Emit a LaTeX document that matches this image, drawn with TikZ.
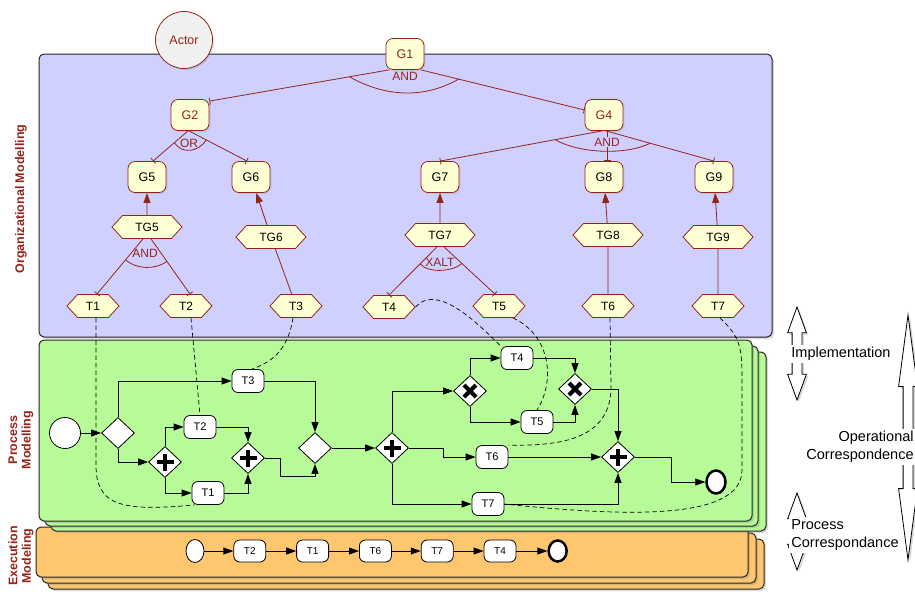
\documentclass[tikz,border=0pt]{standalone}
\usepackage{fontspec}
\setmainfont{Liberation Sans}
\usetikzlibrary{positioning, shapes.geometric, shapes.symbols, shapes.arrows, arrows.meta, shadows}

\definecolor{orgred}{RGB}{150,35,25}
\definecolor{orgblue}{RGB}{208,208,255}
\definecolor{procgreen}{RGB}{183,250,152}
\definecolor{execorange}{RGB}{255,198,112}
\definecolor{goalfill}{RGB}{255,255,212}

\begin{document}
\begin{tikzpicture}[x=1pt, y=-1pt, thick, node distance=30pt,
    panel/.style={draw=black!85, line width=1pt, rounded corners=5pt,
        drop shadow={opacity=0.3, shadow xshift=2pt, shadow yshift=-2pt}},
    side/.style={text=orgred, font=\bfseries\fontsize{12.5}{13.5}\selectfont, rotate=90, align=center},
    goal/.style={draw=orgred, fill=goalfill, rounded corners=7pt, minimum width=38pt,
        minimum height=31pt, inner sep=0pt, font=\fontsize{12.5}{14}\selectfont,
        drop shadow={opacity=0.2, shadow xshift=1.5pt, shadow yshift=-1.5pt}},
    hexa/.style={signal, signal to=east and west, signal pointer angle=95, draw=orgred,
        fill=goalfill, minimum width=52pt, minimum height=23pt, inner sep=1pt,
        font=\fontsize{12}{13}\selectfont},
    tg/.style={hexa, minimum width=70pt},
    org/.style={draw=orgred, line width=0.8pt},
    dec/.style={org, -{Bar[width=7pt]}},
    up/.style={org, -{Triangle[length=10pt, width=7pt]}},
    oplabel/.style={text=orgred, font=\fontsize{12}{14}\selectfont, inner sep=1pt},
    task/.style={draw, fill=white, rounded corners=6pt, minimum width=32pt, minimum height=23pt,
        inner sep=0pt, font=\fontsize{11}{12}\selectfont},
    etask/.style={task, minimum height=22pt, font=\fontsize{10}{11}\selectfont},
    gate/.style={diamond, draw, fill=white, minimum width=33pt, minimum height=31pt, inner sep=0pt},
    andgate/.style={gate, path picture={
        \draw[line width=4.5pt] ([xshift=-8.5pt]path picture bounding box.center) -- ([xshift=8.5pt]path picture bounding box.center)
            ([yshift=-8.5pt]path picture bounding box.center) -- ([yshift=8.5pt]path picture bounding box.center);}},
    xorgate/.style={gate, path picture={
        \draw[line width=4pt] ([xshift=-6pt, yshift=-6pt]path picture bounding box.center) -- ([xshift=6pt, yshift=6pt]path picture bounding box.center)
            ([xshift=-6pt, yshift=6pt]path picture bounding box.center) -- ([xshift=6pt, yshift=-6pt]path picture bounding box.center);}},
    flow/.style={-{Triangle[length=10pt, width=7pt]}},
    corr/.style={dash pattern=on 4.5pt off 3pt, line width=0.7pt},
    bigarrow/.style={double arrow, draw, fill=white, thick, rotate=90, inner xsep=0pt, inner ysep=4.5pt,
        double arrow head extend=4.5pt,
        drop shadow={opacity=0.3, shadow xshift=2pt, shadow yshift=-2pt}},
    sidetext/.style={fill=white, inner sep=2pt, font=\fontsize{14.5}{18.5}\selectfont}]

    \useasboundingbox (0,0) rectangle (915,595);

    % Panels
    \draw[panel, fill=execorange] (48,539) rectangle (764,589);
    \draw[panel, fill=execorange] (42,533) rectangle (756,583);
    \draw[panel, fill=execorange] (36,527) rectangle (748,577);
    \draw[panel, fill=procgreen] (51,352) rectangle (766,531);
    \draw[panel, fill=procgreen] (45,346) rectangle (758,526);
    \draw[panel, fill=procgreen] (39,340) rectangle (752,521);
    \draw[panel, fill=orgblue] (39,54) rectangle (772,337);

    \node (orglabel) [side] at (21,199) {Organizational Modelling};
    \node (proclabel) [side] at (21,440) {Process\\Modelling};
    \node (execlabel) [side] at (21,556) {Execution\\Modeling};

    % Organizational model
    \node (actor) [circle, draw=orgred, fill=black!6, minimum size=57pt, inner sep=0pt, text=orgred,
        font=\fontsize{12.5}{14}\selectfont, drop shadow={opacity=0.25, shadow xshift=1.5pt, shadow yshift=-1.5pt}]
        at (184,40) {Actor};

    \node (G1) [goal, text=orgred] at (405,54) {G1};
    \node (G2) [goal, text=orgred] at (190,115) {G2};
    \node (G4) [goal, text=orgred] at (604,115) {G4};
    \node (G5) [goal] at (147,177) {G5};
    \node (G6) [goal] at (251,177) {G6};
    \node (G7) [goal] at (440,177) {G7};
    \node (G8) [goal] at (604,177) {G8};
    \node (G9) [goal] at (714,177) {G9};

    \node (TG5) [tg] at (147,227) {TG5};
    \node (TG6) [tg] at (271,237) {TG6};
    \node (TG7) [tg] at (440,235) {TG7};
    \node (TG8) [tg] at (608,235) {TG8};
    \node (TG9) [tg] at (718,237) {TG9};

    \node (T1) [hexa] at (93,306) {T1};
    \node (T2) [hexa] at (186,306) {T2};
    \node (T3) [hexa] at (296,306) {T3};
    \node (T4) [hexa] at (389,307) {T4};
    \node (T5) [hexa] at (499,306) {T5};
    \node (T6) [hexa] at (608,306) {T6};
    \node (T7) [hexa] at (718,306) {T7};

    % Decompositions
    \draw[dec] ([xshift=-16pt]G1.south) -- coordinate[pos=0.22] (a1) ([yshift=-2pt]G2.north east);
    \draw[dec] ([xshift=16pt]G1.south) -- coordinate[pos=0.23] (a2) ([yshift=5pt]G4.west);
    \draw[org] (a1) .. controls +(35,20) and +(-35,20) .. (a2);
    \node (and1) [oplabel, below=1pt of G1] {AND};

    \draw[dec] ([xshift=-2pt]G2.south) -- coordinate[pos=0.39] (o1) ([xshift=6pt]G5.north);
    \draw[dec] ([xshift=-1pt]G2.south) -- coordinate[pos=0.3] (o2) ([xshift=-4pt]G6.north);
    \draw[org] (o1) .. controls +(8,12) and +(-8,12) .. (o2);
    \node (or) [oplabel] at (189,143) {OR};

    \draw[dec] ([xshift=-2pt]G4.south) -- coordinate[pos=0.29] (b1) (G7.north);
    \draw[dec] ([xshift=2pt]G4.south) -- coordinate[pos=0.41] (b2) (G9.north);
    \draw[dec] ([xshift=3pt]G4.south) -- ([xshift=3pt]G8.north);
    \draw[org] (b1) .. controls +(25,14) and +(-25,12) .. (b2);
    \node (and2) [oplabel, fill=orgblue] at (607,142) {AND};

    \draw[dec] ([xshift=-4pt]TG5.south) -- coordinate[pos=0.38] (c1) ([xshift=4pt]T1.north);
    \draw[dec] ([xshift=4pt]TG5.south) -- coordinate[pos=0.41] (c2) ([xshift=4pt]T2.north);
    \draw[org] (c1) .. controls +(12,10) and +(-12,8) .. (c2);
    \node (and3) [oplabel] at (145,253) {AND};

    \draw[dec] ([xshift=-3pt]TG7.south) -- coordinate[pos=0.35] (d1) (T4.north);
    \draw[dec] ([xshift=4pt]TG7.south) -- coordinate[pos=0.35] (d2) ([xshift=-4pt]T5.north);
    \draw[org] (d1) .. controls +(8,10) and +(-8,8) .. (d2);
    \node (xalt) [oplabel] at (440,262) {XALT};

    % Means-end
    \draw[up] (TG5) -- (G5);
    \draw[up] (TG6) -- (G6);
    \draw[up] (TG7) -- (G7);
    \draw[up] (TG8) -- (G8);
    \draw[up] (TG9) -- (G9);
    \draw[org] (T3) -- (TG6);
    \draw[org] (T6) -- (TG8);
    \draw[org] (T7) -- (TG9);

    % Process model
    \node (start) [circle, draw, fill=white, minimum size=31pt, inner sep=0pt] at (65,433) {};
    \node (xa) [gate] at (118,433) {};
    \node (pa) [andgate] at (165,462) {};
    \node (pT3) [task] at (248,381) {T3};
    \node (pT2) [task] at (200,427) {T2};
    \node (pT1) [task] at (208,493) {T1};
    \node (pb) [andgate] at (248,458) {};
    \node (xb) [gate] at (315,448) {};
    \node (pc) [andgate] at (392,448) {};
    \node (xc) [xorgate] at (470,391) {};
    \node (pT4) [task] at (517,358) {T4};
    \node (pT5) [task] at (537,422) {T5};
    \node (xd) [xorgate] at (575,389) {};
    \node (pT6) [task] at (492,457) {T6};
    \node (pT7) [task] at (488,504) {T7};
    \node (pd) [andgate] at (618,457) {};
    \node (stop) [ellipse, draw, fill=white, line width=2.5pt, minimum width=19pt, minimum height=23pt,
        inner sep=0pt] at (716,482) {};

    \draw[flow] (start) -- (xa);
    \draw[flow] (xa.north) |- (pT3);
    \draw[flow] (xa.south) |- (pa);
    \draw[flow] (pa.north) |- (pT2);
    \draw[flow] (pa.south) |- (pT1);
    \draw[flow] (pT2) -| (pb.north);
    \draw[flow] (pT1) -| (pb.south);
    \draw[flow] (pb.east) -- ++(15,0) -- ++(0,18) -| (xb.south);
    \draw[flow] (pT3) -| (xb.north);
    \draw[flow] (xb) -- (pc);
    \draw[flow] (pc.north) |- (xc);
    \draw[flow] (xc.north) |- (pT4);
    \draw[flow] (xc.south) |- (pT5);
    \draw[flow] (pT4) -| (xd.north);
    \draw[flow] (pT5) -| (xd.south);
    \draw[flow] (xd.east) -| (pd.north);
    \draw[flow] (pc.east) -- ++(34,0) |- (pT6);
    \draw[flow] (pT6) -- (pd);
    \draw[flow] (pc.south) |- (pT7);
    \draw[flow] (pT7) -| (pd.south);
    \draw[flow] (pd.east) -- ++(36,0) |- (stop);

    % Execution model
    \node (es) [ellipse, draw, fill=white, minimum width=18pt, minimum height=23pt, inner sep=0pt] at (195,551) {};
    \node (eT2) [etask, right=29pt of es] {T2};
    \node (eT1) [etask, right=of eT2] {T1};
    \node (eT6) [etask, right=of eT1] {T6};
    \node (eT7) [etask, right=29pt of eT6] {T7};
    \node (eT4) [etask, right=of eT7] {T4};
    \node (ee) [ellipse, draw, fill=white, line width=2.5pt, minimum width=18pt, minimum height=21pt,
        inner sep=0pt, right=31pt of eT4] {};

    \draw[flow] (es) -- (eT2);
    \draw[flow] (eT2) -- (eT1);
    \draw[flow] (eT1) -- (eT6);
    \draw[flow] (eT6) -- (eT7);
    \draw[flow] (eT7) -- (eT4);
    \draw[flow] (eT4) -- (ee);

    % Correspondences
    \draw[corr] ([xshift=3pt]T1.south) -- (96,465) .. controls (96,505) and (120,512) .. ([xshift=3pt]pT1.south west);
    \draw[corr] ([xshift=5pt]T2.south) -- (pT2.north);
    \draw[corr] ([xshift=-3pt]T3.south) .. controls (288,350) and (272,362) .. ([xshift=4pt]pT3.north);
    \draw[corr] (T4.east) .. controls (435,285) and (470,315) .. (pT4.north west);
    \draw[corr] ([xshift=14pt]T5.south) .. controls (550,335) and (556,380) .. (pT5.north);
    \draw[corr] ([xshift=2pt]T6.south) -- (611,385) .. controls (612,440) and (560,446) .. (pT6.north east);
    \draw[corr] ([xshift=2pt]T7.south) .. controls (738,335) and (742,345) .. (742,375) -- (742,470)
        .. controls (742,522) and (620,516) .. (pT7.east);

    % Levels
    \node (implarrow) [bigarrow, minimum height=93pt, double arrow tip angle=40] at (797,353.5) {};
    \node (impl) [sidetext, anchor=west] at (789,354) {Implementation};
    \node (pcarrow) [bigarrow, minimum height=77pt, double arrow tip angle=40] at (797,531.5) {};
    \node (pcorr) [sidetext, anchor=west, align=left] at (789,535) {Process\\Correspondance};
    \node (oparrow) [bigarrow, minimum height=245pt, double arrow tip angle=15] at (908,437.5) {};
    \node (opcorr) [sidetext, anchor=east, align=right] at (916,446.5) {Operational\\Correspondence};
\end{tikzpicture}
\end{document}
